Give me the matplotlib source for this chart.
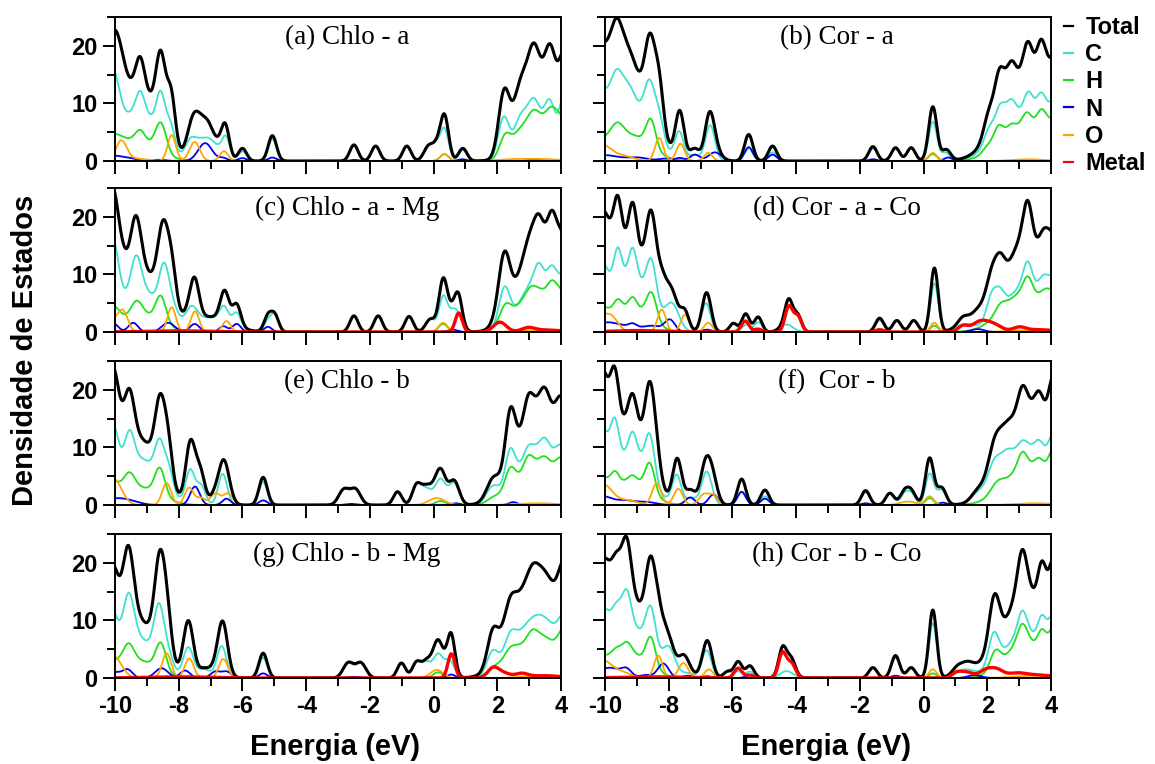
import numpy as np
import matplotlib
matplotlib.use("Agg")
import matplotlib.pyplot as plt
from matplotlib.lines import Line2D
from matplotlib.ticker import MultipleLocator

plt.rcParams["axes.unicode_minus"] = False

energia = np.linspace(-10, 4, 1401)

# niveis: (energia do pico em eV, altura, largura)
a_C = [(-10.1, 12.5, 0.22), (-9.25, 9.0, 0.6), (-9.21, 3.2, 0.13), (-8.56, 7.3, 0.14), (-8.25, 4.0, 0.13),
       (-7.62, 3.5, 0.17), (-7.33, 2.3, 0.15), (-7.05, 3.4, 0.17), (-6.8, 1.3, 0.12), (-6.53, 4.3, 0.13),
       (-6.0, 1.7, 0.13), (-5.06, 3.8, 0.13), (-2.5, 2.6, 0.13), (-1.82, 2.6, 0.13), (-0.84, 2.6, 0.13),
       (-0.15, 2.6, 0.15), (0.1, 2.0, 0.12), (0.34, 5.5, 0.13), (0.92, 1.9, 0.13),
       (2.2, 7.3, 0.17), (2.72, 6.0, 0.2), (3.15, 7.8, 0.2), (3.65, 8.3, 0.18), (4.1, 10.0, 0.15), (3.3, 2.5, 0.5)]
a_H = [(-10.1, 3.0, 0.3), (-9.3, 3.6, 0.6), (-9.21, 1.8, 0.15), (-8.56, 5.0, 0.17), (0.34, 1.2, 0.13),
       (2.25, 4.0, 0.18), (2.7, 3.5, 0.22), (3.15, 5.5, 0.22), (3.7, 6.0, 0.22), (4.1, 4.5, 0.2), (3.4, 3.0, 0.55)]
a_N = [(-10.0, 0.9, 0.25), (-9.5, 0.4, 0.2), (-8.6, 0.2, 0.2), (-7.17, 3.1, 0.22), (-6.6, 0.5, 0.13),
       (-6.0, 0.5, 0.13), (-5.06, 0.6, 0.13), (-2.5, 0.2, 0.13), (0.9, 0.3, 0.13), (3.2, 0.3, 0.2)]
a_O = [(-9.8, 3.5, 0.17), (-9.3, 0.4, 0.3), (-8.22, 4.5, 0.13), (-7.5, 3.3, 0.16), (-6.58, 1.7, 0.13),
       (0.34, 1.2, 0.13), (2.5, 0.3, 0.5), (3.5, 0.3, 0.5)]

b_C = [(-10.2, 9.5, 0.25), (-9.2, 10.0, 0.6), (-9.65, 7.3, 0.2), (-9.25, 2.5, 0.18), (-8.6, 7.5, 0.16),
       (-8.3, 4.5, 0.15), (-7.67, 4.8, 0.14), (-7.2, 1.0, 0.15), (-6.7, 6.2, 0.15), (-5.49, 2.2, 0.13),
       (-4.74, 1.5, 0.13), (-1.59, 2.2, 0.13), (-0.88, 2.3, 0.13), (-0.39, 2.3, 0.13), (0.29, 6.8, 0.13),
       (0.69, 1.4, 0.13), (3.0, 8.0, 0.7), (2.05, 2.5, 0.15), (2.4, 4.0, 0.15), (2.75, 3.0, 0.15),
       (3.3, 4.5, 0.15), (3.7, 6.3, 0.16), (4.1, 7.5, 0.18)]
b_H = [(-10.2, 2.5, 0.3), (-9.2, 4.5, 0.6), (-9.63, 2.8, 0.2), (-8.56, 4.8, 0.15), (0.29, 1.2, 0.13),
       (3.1, 5.5, 0.7), (2.0, 1.0, 0.15), (2.35, 3.0, 0.15), (2.75, 1.5, 0.15), (3.25, 3.0, 0.16),
       (3.7, 4.5, 0.16), (4.1, 4.8, 0.2)]
b_N = [(-10.0, 1.0, 0.4), (-9.0, 0.6, 0.35), (-8.1, 0.4, 0.2), (-7.65, 0.5, 0.13), (-7.18, 1.1, 0.15),
       (-6.55, 1.5, 0.2), (-5.49, 2.4, 0.13), (-4.74, 1.1, 0.13), (-1.59, 0.3, 0.13), (0.77, 0.6, 0.13)]
b_O = [(-10.1, 2.8, 0.3), (-9.4, 0.8, 0.3), (-8.3, 4.0, 0.13), (-7.63, 3.0, 0.13), (-6.76, 1.4, 0.13),
       (0.29, 1.4, 0.13), (3.3, 0.3, 0.5)]

c_C = [(-10.1, 14.0, 0.2), (-9.2, 7.5, 0.6), (-9.34, 6.0, 0.16), (-8.45, 8.2, 0.16), (-8.15, 2.0, 0.15),
       (-7.0, 2.5, 0.6), (-7.6, 2.8, 0.18), (-6.58, 2.6, 0.13), (-6.18, 2.4, 0.13), (-5.2, 1.8, 0.12),
       (-4.98, 2.8, 0.12), (-2.5, 2.8, 0.13), (-1.74, 2.8, 0.13), (-0.77, 2.7, 0.13), (-0.1, 2.2, 0.15),
       (0.3, 5.8, 0.13), (0.67, 4.0, 0.18), (2.22, 6.5, 0.17), (3.3, 9.5, 0.55), (3.3, 2.5, 0.13),
       (3.72, 3.5, 0.14), (4.1, 6.0, 0.2)]
c_H = [(-10.1, 3.5, 0.22), (-9.2, 3.2, 0.6), (-9.32, 2.3, 0.17), (-8.56, 4.5, 0.16), (0.3, 1.4, 0.14),
       (2.25, 3.0, 0.18), (3.25, 7.5, 0.6), (3.05, 0.8, 0.15), (3.72, 2.5, 0.14), (4.05, 3.8, 0.2)]
c_N = [(-10.05, 1.5, 0.15), (-9.43, 1.6, 0.15), (-8.33, 1.6, 0.2), (-7.5, 1.4, 0.15), (-6.6, 1.0, 0.13),
       (-6.18, 1.4, 0.13), (-5.2, 0.9, 0.12), (0.6, 0.4, 0.15)]
c_O = [(-10.05, 2.0, 0.2), (-9.74, 3.2, 0.15), (-8.22, 4.3, 0.13), (-7.49, 3.6, 0.13), (-6.5, 1.9, 0.13),
       (0.3, 1.6, 0.14), (3.3, 0.3, 0.6)]
c_M = [(-8.0, 0.2, 1.0), (0.79, 3.3, 0.11), (2.08, 1.7, 0.2), (2.97, 0.6, 0.2), (3.5, 0.35, 0.5)]

d_C = [(-10.15, 10.0, 0.25), (-9.2, 9.5, 0.55), (-9.6, 6.5, 0.13), (-9.13, 5.2, 0.13), (-8.54, 8.0, 0.16),
       (-7.9, 4.5, 0.22), (-6.83, 5.0, 0.14), (-5.97, 1.5, 0.12), (-5.56, 1.3, 0.12), (-5.19, 1.7, 0.12),
       (-4.3, 1.3, 0.2), (-1.38, 2.0, 0.13), (-0.84, 2.0, 0.13), (-0.31, 2.0, 0.13), (0.34, 8.4, 0.12),
       (1.3, 1.3, 0.3), (3.2, 8.0, 0.65), (2.15, 4.6, 0.17), (2.42, 2.5, 0.14), (3.27, 4.3, 0.14),
       (3.75, 3.0, 0.15), (4.1, 6.0, 0.2)]
d_H = [(-10.1, 3.0, 0.25), (-9.2, 4.3, 0.55), (-9.6, 2.0, 0.13), (-9.13, 1.8, 0.13), (-8.54, 4.8, 0.16),
       (0.34, 1.1, 0.12), (3.2, 7.0, 0.7), (2.4, 1.3, 0.16), (3.27, 2.7, 0.14), (3.8, 1.5, 0.15), (4.1, 3.5, 0.2)]
d_N = [(-10.0, 1.3, 0.3), (-9.4, 1.0, 0.4), (-9.13, 0.6, 0.12), (-8.5, 1.0, 0.3), (-7.96, 2.0, 0.16),
       (-6.8, 0.4, 0.15), (-5.2, 0.4, 0.12), (1.7, 0.5, 0.2)]
d_O = [(-10.1, 2.5, 0.25), (-9.75, 1.8, 0.2), (-8.22, 3.9, 0.13), (-7.49, 3.0, 0.13), (-6.76, 1.6, 0.13),
       (0.34, 1.6, 0.12), (3.3, 0.3, 0.6)]
d_M = [(-9.0, 0.25, 0.8), (-5.6, 1.9, 0.12), (-5.2, 0.5, 0.12), (-4.23, 4.4, 0.12), (-3.95, 2.7, 0.12),
       (-1.38, 0.4, 0.13), (1.23, 1.0, 0.15), (1.76, 1.7, 0.25), (2.2, 1.2, 0.25), (3.0, 0.7, 0.2), (3.6, 0.4, 0.5)]

e_C = [(-10.1, 11.5, 0.2), (-9.2, 8.0, 0.6), (-9.55, 6.0, 0.15), (-8.59, 6.5, 0.15), (-8.3, 3.5, 0.13),
       (-7.64, 5.8, 0.14), (-7.3, 3.3, 0.14), (-6.62, 5.4, 0.14), (-5.35, 4.0, 0.13), (-2.82, 2.6, 0.16),
       (-2.45, 2.6, 0.16), (-1.13, 2.3, 0.13), (-0.55, 2.7, 0.13), (-0.25, 2.9, 0.2), (0.22, 4.3, 0.16),
       (0.64, 3.8, 0.16), (3.3, 10.0, 0.65), (1.85, 2.5, 0.2), (2.4, 5.9, 0.15), (2.97, 1.5, 0.14),
       (3.5, 2.0, 0.15), (4.05, 5.0, 0.2)]
e_H = [(-10.1, 3.0, 0.25), (-9.2, 3.0, 0.6), (-9.55, 2.9, 0.17), (-8.59, 4.7, 0.16), (0.22, 0.7, 0.16),
       (3.3, 7.5, 0.65), (1.9, 0.8, 0.2), (2.4, 3.6, 0.16), (2.97, 2.0, 0.14), (3.5, 1.2, 0.15), (4.05, 4.2, 0.2)]
e_N = [(-10.0, 1.0, 0.3), (-9.5, 0.6, 0.3), (-7.49, 3.2, 0.15), (-6.5, 1.1, 0.13), (-5.35, 0.8, 0.13),
       (-2.6, 0.2, 0.15), (0.7, 0.3, 0.13), (2.5, 0.5, 0.13)]
e_O = [(-10.05, 4.6, 0.25), (-8.38, 3.8, 0.14), (-7.67, 3.0, 0.14), (-7.3, 1.2, 0.13), (-6.85, 2.0, 0.15),
       (-6.45, 2.0, 0.15), (0.1, 1.2, 0.25), (3.3, 0.3, 0.6)]

f_C = [(-10.15, 11.5, 0.25), (-9.2, 9.0, 0.55), (-9.69, 7.0, 0.13), (-9.13, 3.8, 0.13), (-8.59, 7.5, 0.15),
       (-7.75, 5.0, 0.14), (-7.3, 1.2, 0.15), (-6.81, 5.8, 0.16), (-5.71, 2.2, 0.13), (-4.98, 1.5, 0.13),
       (-1.82, 2.2, 0.13), (-1.06, 2.0, 0.13), (-0.6, 1.8, 0.13), (-0.38, 1.8, 0.13), (0.19, 5.4, 0.13),
       (0.56, 2.6, 0.14), (3.3, 10.0, 0.7), (1.7, 1.5, 0.2), (2.2, 4.5, 0.2), (2.6, 3.0, 0.2),
       (3.1, 1.5, 0.15), (3.64, 2.2, 0.14), (4.1, 7.0, 0.17)]
f_H = [(-10.15, 3.9, 0.25), (-9.2, 4.3, 0.55), (-9.69, 2.3, 0.13), (-9.13, 0.9, 0.13), (-8.59, 5.0, 0.15),
       (0.19, 1.2, 0.13), (3.3, 7.0, 0.7), (2.3, 1.6, 0.2), (3.1, 2.5, 0.14), (3.64, 1.8, 0.14), (4.1, 6.0, 0.17)]
f_N = [(-10.05, 1.4, 0.25), (-9.4, 0.8, 0.3), (-8.7, 0.5, 0.3), (-7.33, 1.3, 0.15), (-6.6, 1.8, 0.15),
       (-5.71, 2.3, 0.13), (-4.98, 1.1, 0.13), (-1.82, 0.3, 0.13), (0.6, 0.4, 0.13)]
f_O = [(-10.05, 3.5, 0.28), (-9.3, 0.8, 0.3), (-8.38, 3.8, 0.14), (-7.7, 2.8, 0.14), (-6.9, 1.8, 0.15),
       (-6.6, 1.6, 0.14), (-0.5, 0.6, 0.25), (0.19, 1.5, 0.13), (3.5, 0.3, 0.6)]

g_C = [(-10.1, 9.0, 0.18), (-9.3, 7.0, 0.55), (-9.58, 8.5, 0.17), (-8.61, 9.6, 0.16), (-8.3, 2.5, 0.14),
       (-7.7, 5.2, 0.16), (-7.2, 1.5, 0.2), (-6.65, 5.5, 0.15), (-5.35, 3.5, 0.13), (-2.68, 2.5, 0.16),
       (-2.28, 2.5, 0.16), (-1.01, 2.6, 0.13), (-0.54, 2.6, 0.13), (-0.23, 2.6, 0.15), (0.14, 4.0, 0.15),
       (0.5, 3.0, 0.15), (3.3, 11.0, 0.7), (1.85, 3.5, 0.17), (2.4, 3.2, 0.18), (4.1, 5.0, 0.17)]
g_H = [(-10.1, 2.0, 0.25), (-9.25, 3.0, 0.55), (-9.58, 3.3, 0.17), (-8.56, 4.8, 0.16), (0.14, 1.0, 0.15),
       (3.3, 7.5, 0.7), (1.9, 1.0, 0.2), (2.4, 2.0, 0.2), (3.1, 1.2, 0.15), (4.1, 4.5, 0.17)]
g_N = [(-10.0, 1.0, 0.2), (-9.6, 1.4, 0.15), (-8.54, 1.7, 0.2), (-7.8, 1.3, 0.15), (-6.85, 1.1, 0.15),
       (-6.5, 1.1, 0.15), (-5.35, 0.8, 0.13), (-2.5, 0.2, 0.2), (0.55, 0.6, 0.13)]
g_O = [(-10.05, 3.8, 0.25), (-8.38, 4.3, 0.14), (-7.67, 3.4, 0.14), (-6.6, 3.3, 0.14), (0.1, 1.4, 0.2),
       (3.5, 0.4, 0.6)]
g_M = [(-8.0, 0.2, 1.0), (0.56, 4.2, 0.11), (1.87, 1.7, 0.17), (2.2, 0.8, 0.2), (2.76, 0.7, 0.2), (3.5, 0.4, 0.5)]

h_C = [(-10.1, 9.5, 0.25), (-9.2, 9.0, 0.55), (-9.63, 4.5, 0.15), (-9.32, 6.0, 0.14), (-8.56, 7.8, 0.16),
       (-8.0, 4.7, 0.2), (-7.4, 0.8, 0.2), (-6.81, 4.8, 0.15), (-6.15, 1.1, 0.13), (-5.82, 1.1, 0.13),
       (-5.45, 1.1, 0.13), (-4.3, 1.2, 0.2), (-1.59, 1.8, 0.13), (-0.88, 3.5, 0.13), (-0.39, 1.8, 0.13),
       (0.29, 9.5, 0.12), (1.3, 1.4, 0.3), (3.2, 8.0, 0.65), (2.2, 5.5, 0.16), (3.1, 3.8, 0.14),
       (3.72, 4.5, 0.13), (4.1, 8.0, 0.17)]
h_H = [(-10.1, 2.6, 0.25), (-9.2, 4.2, 0.55), (-9.65, 1.6, 0.15), (-9.32, 2.0, 0.15), (-8.56, 5.0, 0.15),
       (0.29, 0.8, 0.12), (3.2, 6.5, 0.6), (2.25, 3.0, 0.16), (3.1, 3.0, 0.15), (3.72, 3.5, 0.13), (4.1, 6.5, 0.17)]
h_N = [(-10.0, 1.3, 0.3), (-9.6, 0.9, 0.3), (-9.32, 1.1, 0.15), (-8.7, 0.5, 0.2), (-8.17, 2.5, 0.17),
       (-7.4, 0.4, 0.15), (-6.8, 0.3, 0.15), (-5.45, 0.5, 0.13), (-0.88, 0.4, 0.13), (1.6, 0.5, 0.2)]
h_O = [(-10.1, 3.0, 0.28), (-9.5, 1.0, 0.3), (-8.33, 3.9, 0.13), (-7.54, 2.6, 0.15), (-6.74, 1.5, 0.13),
       (0.29, 1.5, 0.12), (3.5, 0.4, 0.6)]
h_M = [(-8.5, 0.2, 1.0), (-5.82, 1.7, 0.12), (-5.45, 0.5, 0.12), (-4.43, 4.3, 0.12), (-4.15, 2.5, 0.13),
       (1.03, 0.8, 0.15), (1.35, 1.0, 0.2), (1.95, 1.3, 0.2), (2.3, 1.3, 0.2), (2.9, 0.7, 0.3), (3.6, 0.5, 0.5)]

titulos = ["(a) Chlo - a", "(b) Cor - a", "(c) Chlo - a - Mg", "(d) Cor - a - Co",
           "(e) Chlo - b", "(f)  Cor - b", "(g) Chlo - b - Mg", "(h) Cor - b - Co"]
paineis = [(a_C, a_H, a_N, a_O, None), (b_C, b_H, b_N, b_O, None),
           (c_C, c_H, c_N, c_O, c_M), (d_C, d_H, d_N, d_O, d_M),
           (e_C, e_H, e_N, e_O, None), (f_C, f_H, f_N, f_O, None),
           (g_C, g_H, g_N, g_O, g_M), (h_C, h_H, h_N, h_O, h_M)]

cores = {"Total": "black", "C": "#40e0d0", "H": "#1ee11e", "N": "#0000ee", "O": "#ffa500", "Metal": "#ff0000"}


def dos(picos):
    # alargamento gaussiano dos niveis
    y = np.zeros_like(energia)
    if picos is None:
        return y
    for e0, h, w in picos:
        y += h * np.exp(-0.5 * ((energia - e0) / w) ** 2)
    return y


fig = plt.figure(figsize=(11.55, 7.64), dpi=100)
W, H = 1155, 764
esq = [115, 605]
topo = [17, 188, 361, 534]
larg, alt = 446, 144

for i, (tit, especies) in enumerate(zip(titulos, paineis)):
    lin, col = i // 2, i % 2
    ax = fig.add_axes([esq[col] / W, 1 - (topo[lin] + alt) / H, larg / W, alt / H])
    pc, ph, pn, po, pm = especies
    yc, yh, yn, yo, ym = dos(pc), dos(ph), dos(pn), dos(po), dos(pm)
    total = yc + yh + yn + yo + ym
    ax.plot(energia, yc, color=cores["C"], lw=1.3)
    ax.plot(energia, yh, color=cores["H"], lw=1.3)
    ax.plot(energia, yn, color=cores["N"], lw=1.3)
    ax.plot(energia, yo, color=cores["O"], lw=1.3)
    ax.plot(energia, total, color=cores["Total"], lw=2.2)
    if pm is not None:
        ax.plot(energia, ym, color=cores["Metal"], lw=2.4)
    ax.set_xlim(-10, 4)
    ax.set_ylim(0, 25)
    ax.xaxis.set_major_locator(MultipleLocator(2))
    ax.xaxis.set_minor_locator(MultipleLocator(1))
    ax.yaxis.set_major_locator(MultipleLocator(10))
    ax.yaxis.set_minor_locator(MultipleLocator(5))
    ax.tick_params(which="both", direction="out", width=1.4, top=False, right=False)
    ax.tick_params(which="major", length=9, labelsize=17)
    ax.tick_params(which="minor", length=6)
    for s in ax.spines.values():
        s.set_linewidth(1.4)
    for lab in ax.get_xticklabels() + ax.get_yticklabels():
        lab.set_fontweight("bold")
        lab.set_family("Liberation Sans")
    if lin < 3:
        ax.set_xticklabels([])
    if col == 1:
        ax.set_yticklabels([])
    ax.text(0.52, 0.86, tit, transform=ax.transAxes, ha="center", va="center",
            fontsize=19.5, family="Liberation Serif")

fonte = dict(family="Liberation Sans", fontweight="bold")
fig.text(335 / W, 1 - 747 / H, "Energia (eV)", ha="center", va="center", fontsize=21, **fonte)
fig.text(826 / W, 1 - 747 / H, "Energia (eV)", ha="center", va="center", fontsize=21, **fonte)
fig.text(25 / W, 1 - 350 / H, "Densidade de Estados", rotation=90, ha="center", va="center",
         fontsize=21, **fonte)

alcas = [Line2D([], [], color=cores[k], lw=1.6) for k in cores]
fig.legend(alcas, list(cores), loc="upper left", bbox_to_anchor=(1064 / W, 1 - 16 / H),
           frameon=False, handlelength=0.4, handletextpad=0.5, labelspacing=0.18,
           borderaxespad=0, borderpad=0, prop=dict(family="Liberation Sans", weight="bold", size=17))

fig.savefig("out.png", dpi=100)
